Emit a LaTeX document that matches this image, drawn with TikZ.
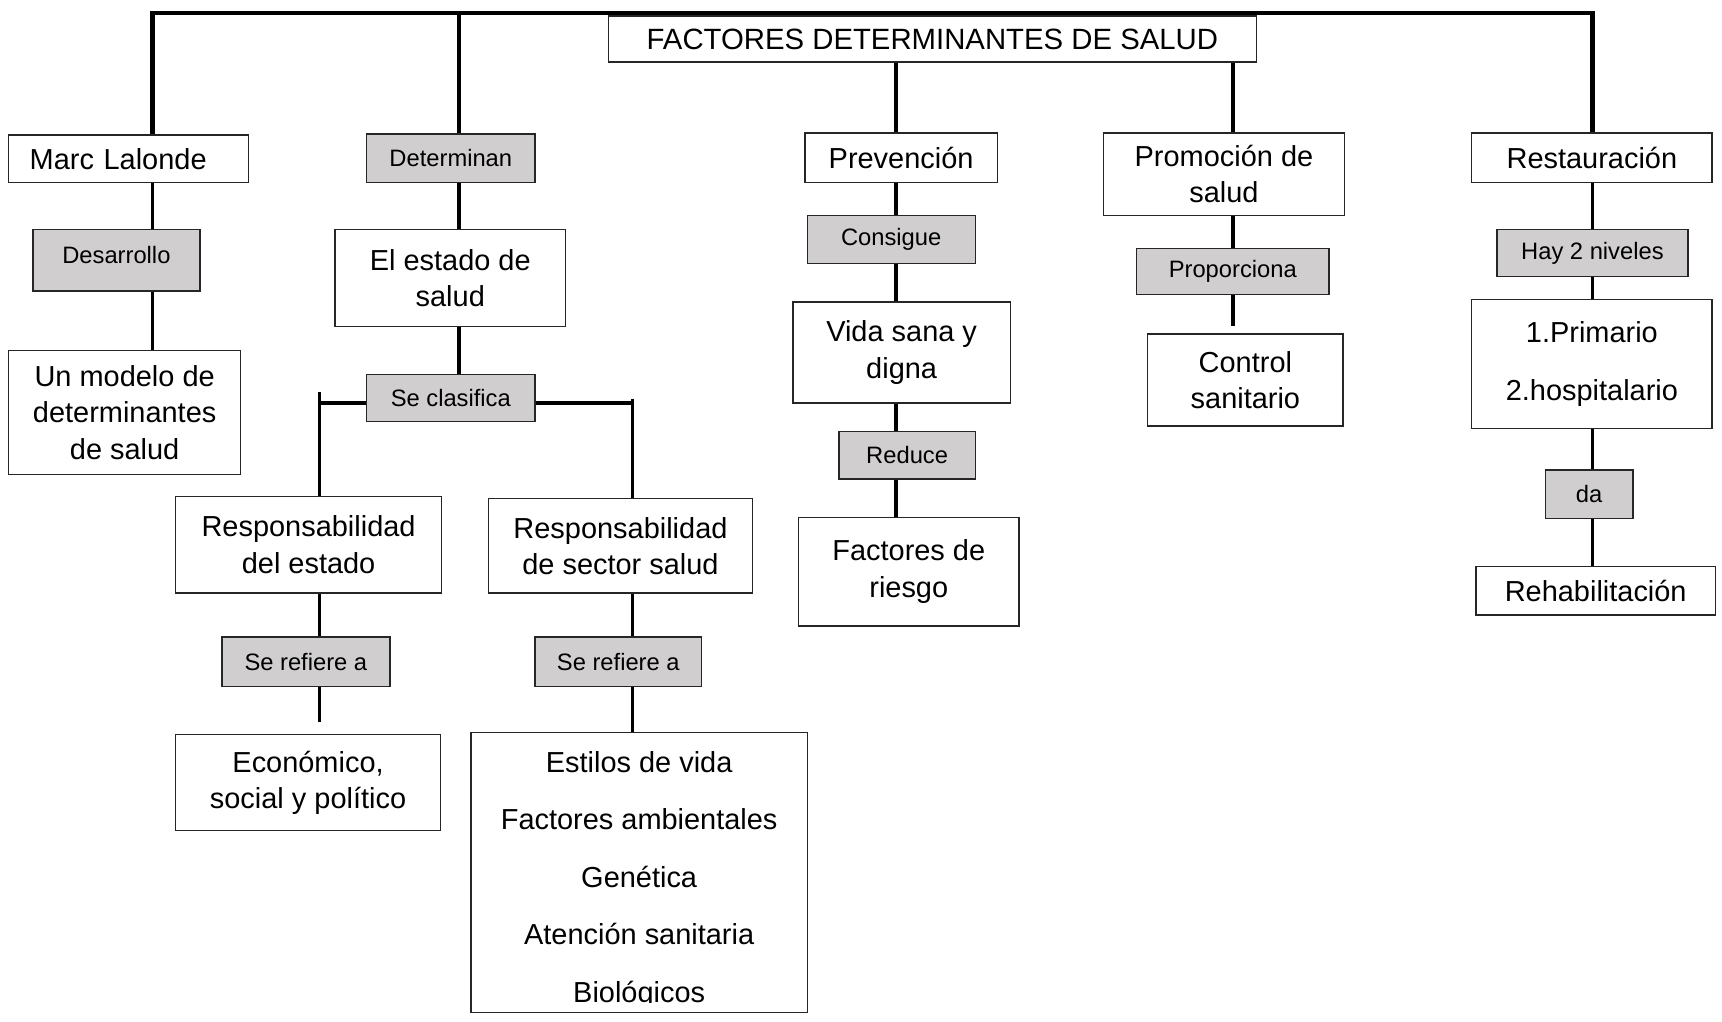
\documentclass[tikz,border=0pt]{standalone}
\usepackage{fontspec}
\setmainfont{Liberation Sans}
\usepackage{tikz}
\usetikzlibrary{positioning, calc}
\definecolor{linkgray}{RGB}{208, 206, 206}
\definecolor{edgegray}{RGB}{38, 38, 38}
\tikzset{
  concept/.style={draw=edgegray, line width=0.7pt, fill=white, align=center, inner sep=0pt, font=\fontsize{15}{18.8}\selectfont},
  linkword/.style={concept, fill=linkgray, font=\fontsize{12.3}{15}\selectfont},
  boxsize/.style 2 args={minimum width=#1*0.02cm, minimum height=#2*0.02cm},
  link/.style={line width=1.9pt},
  busline/.style={line width=2.3pt},
}

\begin{document}
\begin{tikzpicture}[x=0.02cm, y=-0.02cm]
  \useasboundingbox (0,0) rectangle (1568,930);

  % Title
  \node[concept, boxsize={590}{42}, font=\fontsize{15.2}{18}\selectfont] (title) at (849,35.5) {FACTORES DETERMINANTES DE SALUD};

  % Column positions of the connectors
  \coordinate (busL) at (139,12);
  \coordinate (busD) at (418,12);
  \coordinate (busR) at (1450,12);
  \coordinate (colE) at (816,0);
  \coordinate (colF) at (1123,0);
  \coordinate (forkL) at (291,367);
  \coordinate (forkR) at (576,367);

  % Marc Lalonde
  \node[concept, boxsize={218}{43}, text width=3.6cm, align=left] (lalonde) at (117,144.5) {Marc Lalonde};
  \node[linkword, boxsize={152}{56}, text depth=0.2cm] (desarrollo) at (106,237) {Desarrollo};
  \node[concept, boxsize={211}{113}] (modelo) at (113.5,375.5) {Un modelo de\\determinantes\\de salud};

  % Determinan
  \node[linkword, boxsize={153}{44}] (determinan) at (410.5,144) {Determinan};
  \node[concept, boxsize={210}{88}] (estado) at (410,253) {El estado de\\salud};
  \node[linkword, boxsize={153}{43}] (clasifica) at (410.5,362.5) {Se clasifica};

  \node[concept, boxsize={242}{88}] (respestado) at (281,496) {Responsabilidad\\del estado};
  \node[linkword, boxsize={153}{45}] (refiereA) at (278.5,602.5) {Se refiere a};
  \node[concept, boxsize={241}{87}] (economico) at (280.5,712.5) {Económico,\\social y político};

  \node[concept, boxsize={240}{86}] (respsector) at (565,497) {Responsabilidad\\de sector salud};
  \node[linkword, boxsize={152}{45}] (refiereB) at (563,602.5) {Se refiere a};
  \node[concept, boxsize={306}{255}] (factores) at (582,794.5) {};
  \begin{scope}
    \clip (429,667) rectangle (735,913);
    \node[concept, draw=none, fill=none] (factorestext) at (582,801) {Estilos de vida\\[11pt]Factores ambientales\\[11pt]Genética\\[11pt]Atención sanitaria\\[11pt]Biológicos};
  \end{scope}

  % Prevencion
  \node[concept, boxsize={175}{45}] (prevencion) at (820.5,143.5) {Prevención};
  \node[linkword, boxsize={153}{44}] (consigue) at (811.5,218) {Consigue};
  \node[concept, boxsize={198}{92}] (vidasana) at (821,321) {Vida sana y\\digna};
  \node[linkword, boxsize={124}{43}] (reduce) at (826,414.5) {Reduce};
  \node[concept, boxsize={201}{99}] (riesgo) at (827.5,520.5) {Factores de\\riesgo};

  % Promocion
  \node[concept, boxsize={219}{75}] (promocion) at (1114.5,158.5) {Promoción de\\salud};
  \node[linkword, boxsize={175}{42}] (proporciona) at (1122.5,247) {Proporciona};
  \node[concept, boxsize={178}{84}] (control) at (1134,346) {Control\\sanitario};

  % Restauracion
  \node[concept, boxsize={219}{45}] (restauracion) at (1449.5,143.5) {Restauración};
  \node[linkword, boxsize={174}{43}] (niveles) at (1450,230.5) {Hay 2 niveles};
  \node[concept, boxsize={219}{117}] (nivelbox) at (1449.5,331.5) {1.Primario\\[11pt]2.hospitalario};
  \node[linkword, boxsize={80}{44}] (da) at (1447,450) {da};
  \node[concept, boxsize={218}{44}] (rehab) at (1453,538) {Rehabilitación};

  % Connectors
  \draw[busline] (busL |- lalonde.north) -- (busL) -- (busR) -- (busR |- restauracion.north);
  \draw[link] (busD) -- (busD |- determinan.north);
  \draw[link] (busL |- lalonde.south) -- (busL |- desarrollo.north);
  \draw[link] (busL |- desarrollo.south) -- (busL |- modelo.north);

  \draw[link] (busD |- determinan.south) -- (busD |- estado.north);
  \draw[link] (busD |- estado.south) -- (busD |- clasifica.north);
  \draw[busline] (clasifica.west |- forkL) -- (forkL);
  \draw[busline] (clasifica.east |- forkR) -- (forkR);
  \draw[link] ($(forkL)+(0,-10)$) -- (forkL |- respestado.north);
  \draw[link] ($(forkR)+(0,-4)$) -- (forkR |- respsector.north);

  \draw[link] (forkL |- respestado.south) -- (forkL |- refiereA.north);
  \draw[link] (forkL |- refiereA.south) -- ++(0,32);
  \draw[link] (forkR |- respsector.south) -- (forkR |- refiereB.north);
  \draw[link] (forkR |- refiereB.south) -- (forkR |- factores.north);

  \draw[link] (colE |- title.south) -- (colE |- prevencion.north);
  \draw[link] (colE |- prevencion.south) -- (colE |- consigue.north);
  \draw[link] (colE |- consigue.south) -- (colE |- vidasana.north);
  \draw[link] (colE |- vidasana.south) -- (colE |- reduce.north);
  \draw[link] (colE |- reduce.south) -- (colE |- riesgo.north);

  \draw[link] (colF |- title.south) -- (colF |- promocion.north);
  \draw[link] (colF |- promocion.south) -- (colF |- proporciona.north);
  \draw[link] (colF |- proporciona.south) -- ++(0,28);

  \draw[link] (busR |- restauracion.south) -- (busR |- niveles.north);
  \draw[link] (busR |- niveles.south) -- (busR |- nivelbox.north);
  \draw[link] (busR |- nivelbox.south) -- (busR |- da.north);
  \draw[link] (busR |- da.south) -- (busR |- rehab.north);
\end{tikzpicture}
\end{document}
